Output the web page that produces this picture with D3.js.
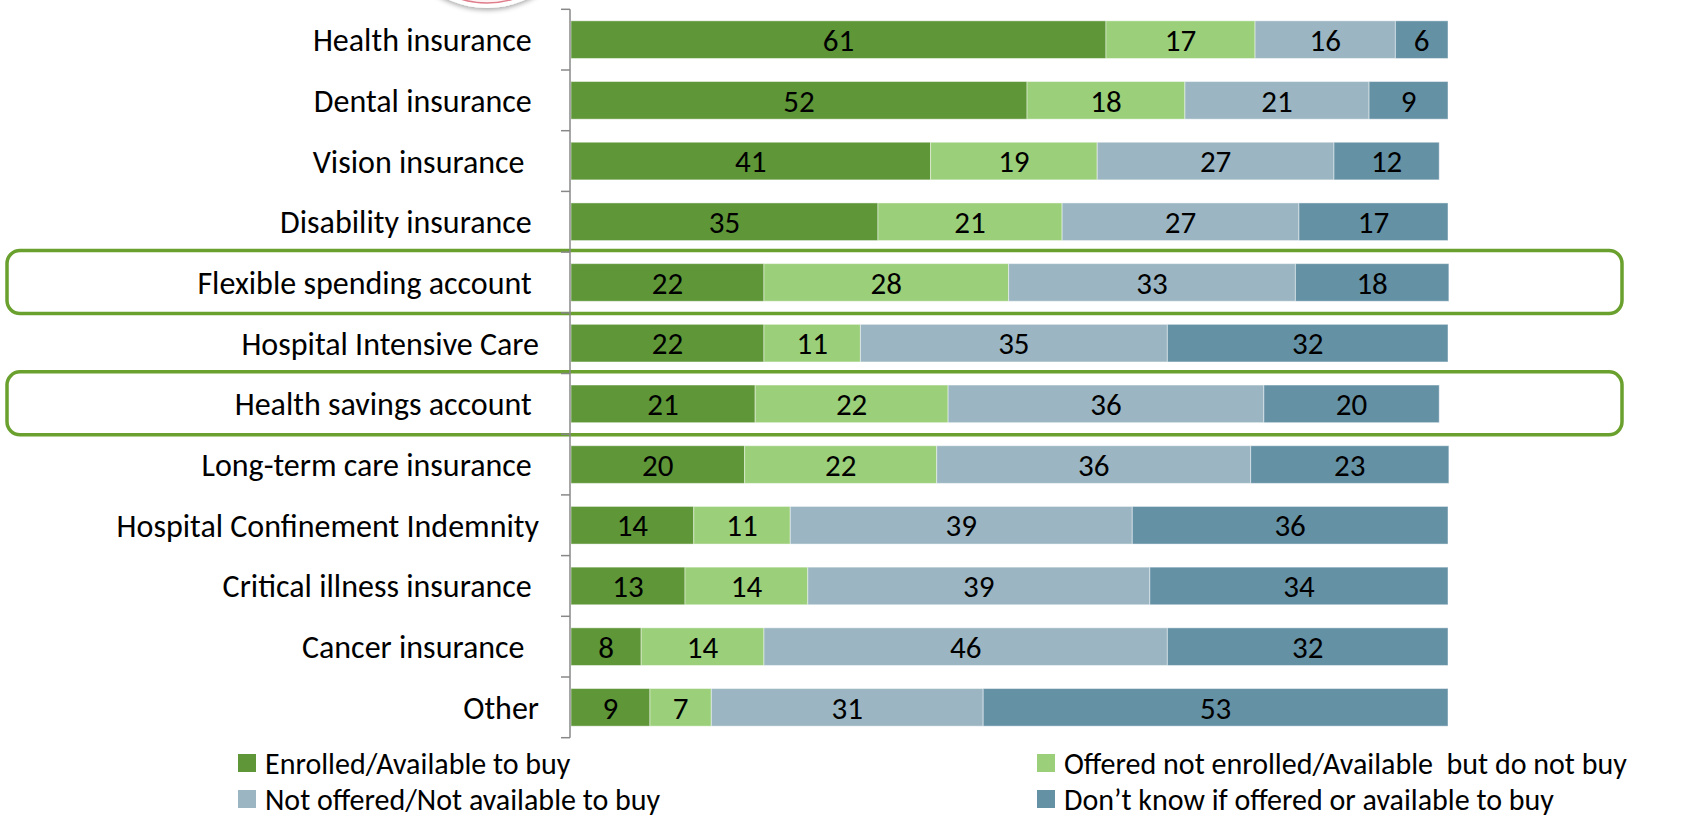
<!DOCTYPE html>
<html>
<head>
<meta charset="utf-8">
<script src="https://cdn.jsdelivr.net/npm/d3@7"></script>
<style>
  html, body { margin: 0; padding: 0; background: #fff; }
  svg { display: block; font-family: Carlito, Lato, "Open Sans", sans-serif; }
  text { white-space: pre; }
</style>
</head>
<body>
<svg id="chart" width="1684" height="818"></svg>
<script>
const categories = [
  "Health insurance ",
  "Dental insurance ",
  "Vision insurance  ",
  "Disability insurance ",
  "Flexible spending account ",
  "Hospital Intensive Care",
  "Health savings account ",
  "Long-term care insurance ",
  "Hospital Confinement Indemnity",
  "Critical illness insurance ",
  "Cancer insurance  ",
  "Other"
];
const seriesNames = [
  "Enrolled/Available to buy",
  "Offered not enrolled/Available  but do not buy",
  "Not offered/Not available to buy",
  "Don\u2019t know if offered or available to buy"
];
const enrolled      = [61, 52, 41, 35, 22.0, 22, 21, 19.8, 14, 13, 8, 9];
const offeredNot    = [17, 18, 19, 21, 27.9, 11, 22, 21.9, 11, 14, 14, 7];
const notOffered    = [16, 21, 27, 27, 32.7, 35, 36, 35.8, 39, 39, 46, 31];
const dontKnow      = [6, 9, 12, 17, 17.5, 32, 20, 22.6, 36, 34, 32, 53];
const highlighted   = ["Flexible spending account ", "Health savings account "];
const colors = ["#5e9638", "#9bcf7a", "#9bb6c2", "#6591a5"];

const svg = d3.select("#chart");
const seriesValues = [enrolled, offeredNot, notOffered, dontKnow];
const rows = categories.map((c, i) => {
  const r = { cat: c };
  seriesNames.forEach((s, j) => r[s] = seriesValues[j][i]);
  return r;
});
const stacked = d3.stack().keys(seriesNames)(rows);

const x = d3.scaleLinear().domain([0, 100]).range([571, 1448]);
const y = d3.scaleBand().domain(categories).range([9.3, 737.7]).paddingInner(0.38).paddingOuter(0.19);
const yTicks = d3.scaleBand().domain(categories).range([9.3, 737.7]);

// logo fragment at top
const defs = svg.append("defs");
const f = defs.append("filter").attr("id", "sh").attr("x", "-20%").attr("y", "-20%").attr("width", "140%").attr("height", "140%");
f.append("feDropShadow").attr("dx", 0).attr("dy", 2).attr("stdDeviation", 2.5).attr("flood-color", "#000").attr("flood-opacity", 0.35);
svg.append("circle").attr("cx", 487).attr("cy", -86).attr("r", 94)
  .attr("fill", "#fff").attr("filter", "url(#sh)");
svg.append("circle").attr("cx", 487).attr("cy", -86).attr("r", 89)
  .attr("fill", "#fdf3f4").attr("stroke", "#e07d8c").attr("stroke-width", 1.5);

// highlight boxes
highlighted.forEach(h => {
  svg.append("rect")
    .attr("x", 7).attr("y", yTicks(h) - 0.5 + (yTicks.bandwidth() - 63) / 2)
    .attr("width", 1615).attr("height", 63)
    .attr("rx", 13).attr("ry", 13)
    .attr("fill", "none").attr("stroke", "#6aa02e").attr("stroke-width", 3.5);
});

// bars
const g = svg.append("g");
stacked.forEach((layer, j) => {
  g.selectAll(null).data(layer).enter().append("rect")
    .attr("x", d => x(d[0]))
    .attr("y", d => y(d.data.cat))
    .attr("width", d => x(d[1]) - x(d[0]))
    .attr("height", y.bandwidth())
    .attr("fill", colors[j])
    .attr("stroke", "rgba(255,255,255,0.45)")
    .attr("stroke-width", 1);
  g.selectAll(null).data(layer).enter().append("text")
    .attr("x", d => (x(d[0]) + x(d[1])) / 2)
    .attr("y", d => y(d.data.cat) + y.bandwidth() / 2)
    .attr("dy", "0.36em")
    .attr("text-anchor", "middle")
    .attr("font-size", 31)
    .attr("fill", "#000")
    .text(d => Math.round(d[1] - d[0]));
});

// axis
svg.append("line").attr("x1", 570).attr("x2", 570).attr("y1", 9.3).attr("y2", 737.7)
  .attr("stroke", "#888").attr("stroke-width", 1.5);
const tickPos = categories.map(c => yTicks(c)).concat([737.7]);
svg.selectAll(null).data(tickPos).enter().append("line")
  .attr("x1", 561).attr("x2", 570).attr("y1", d => d).attr("y2", d => d)
  .attr("stroke", "#888").attr("stroke-width", 1.5);
svg.selectAll(null).data(categories).enter().append("text")
  .attr("x", 539)
  .attr("y", d => y(d) + y.bandwidth() / 2)
  .attr("dy", "0.36em")
  .attr("text-anchor", "end")
  .attr("font-size", 32)
  .attr("fill", "#000")
  .text(d => d);

// legend
const legendPos = [[238, 763], [1037, 763], [238, 799], [1037, 799]];
[0, 1, 2, 3].forEach((j, k) => {
  const [lx, ly] = legendPos[k];
  svg.append("rect").attr("x", lx).attr("y", ly - 9).attr("width", 18).attr("height", 18).attr("fill", colors[j]);
  svg.append("text").attr("x", lx + 27).attr("y", ly).attr("dy", "0.36em")
    .attr("font-size", 30).attr("fill", "#000").text(seriesNames[j]);
});
</script>
</body>
</html>
